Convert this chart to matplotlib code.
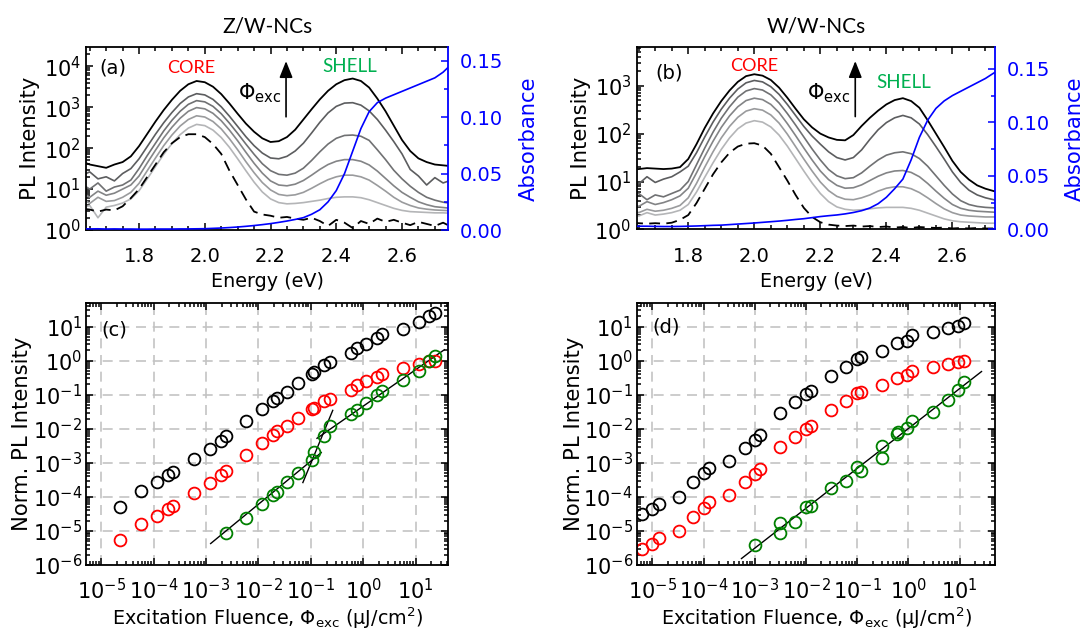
import numpy as np
import matplotlib
matplotlib.use("Agg")
import matplotlib.pyplot as plt
from matplotlib.ticker import FixedLocator, LogLocator, MultipleLocator, NullFormatter, FuncFormatter

plt.rcParams["font.family"] = ["DejaVu Sans"]
plt.rcParams["mathtext.fontset"] = "dejavusans"
plt.rcParams["axes.unicode_minus"] = False

# ---- spectra, log10(PL intensity) ----
energy = [1.63, 1.65, 1.675, 1.70, 1.725, 1.75, 1.775, 1.80, 1.825, 1.85, 1.875, 1.90,
          1.925, 1.95, 1.975, 2.00, 2.025, 2.05, 2.075, 2.10, 2.125, 2.15, 2.175, 2.20,
          2.225, 2.25, 2.275, 2.30, 2.325, 2.35, 2.375, 2.40, 2.425, 2.45, 2.475, 2.50,
          2.525, 2.55, 2.575, 2.60, 2.625, 2.65, 2.675, 2.70, 2.725, 2.75]

a_black = [1.66, 1.60, 1.56, 1.52, 1.60, 1.66, 1.80, 2.05, 2.35, 2.65, 2.93, 3.18, 3.40, 3.56, 3.64, 3.61,
           3.50, 3.32, 3.09, 2.84, 2.60, 2.40, 2.24, 2.15, 2.17, 2.27, 2.45, 2.70, 2.95, 3.19, 3.40, 3.56,
           3.66, 3.70, 3.64, 3.48, 3.21, 2.90, 2.55, 2.20, 1.93, 1.75, 1.66, 1.60, 1.58, 1.56]
a_gray1 = [1.35, 1.42, 1.25, 1.30, 1.20, 1.38, 1.50, 1.74, 2.04, 2.34, 2.62, 2.87, 3.09, 3.25, 3.33, 3.30,
           3.19, 3.01, 2.78, 2.53, 2.28, 2.06, 1.88, 1.76, 1.74, 1.80, 1.93, 2.12, 2.37, 2.63, 2.86, 3.02,
           3.10, 3.11, 3.05, 2.91, 2.70, 2.44, 2.16, 1.86, 1.48, 1.32, 1.10, 1.28, 1.15, 1.22]
a_gray2 = [1.10, 1.00, 1.15, 0.95, 1.05, 1.10, 1.22, 1.50, 1.82, 2.12, 2.42, 2.68, 2.90, 3.07, 3.16, 3.13,
           3.02, 2.84, 2.61, 2.36, 2.10, 1.85, 1.62, 1.45, 1.36, 1.34, 1.39, 1.51, 1.70, 1.91, 2.10, 2.24,
           2.31, 2.32, 2.29, 2.19, 1.96, 1.72, 1.46, 1.25, 1.07, 0.92, 0.80, 0.73, 0.68, 0.65]
a_gray3 = [0.90, 0.80, 0.95, 0.85, 0.90, 1.00, 1.10, 1.32, 1.64, 1.95, 2.25, 2.51, 2.73, 2.90, 2.99, 2.96,
           2.85, 2.67, 2.44, 2.18, 1.90, 1.63, 1.39, 1.20, 1.10, 1.08, 1.12, 1.21, 1.34, 1.48, 1.60, 1.68,
           1.72, 1.72, 1.68, 1.59, 1.44, 1.26, 1.08, 0.92, 0.80, 0.69, 0.62, 0.57, 0.55, 0.53]
a_gray4 = [0.75, 0.65, 0.80, 0.70, 0.72, 0.80, 0.92, 1.14, 1.45, 1.76, 2.06, 2.32, 2.54, 2.70, 2.79, 2.76,
           2.65, 2.47, 2.23, 1.96, 1.67, 1.40, 1.16, 0.98, 0.87, 0.84, 0.86, 0.92, 1.02, 1.13, 1.23, 1.30,
           1.34, 1.34, 1.30, 1.22, 1.09, 0.95, 0.80, 0.68, 0.60, 0.54, 0.51, 0.49, 0.48, 0.47]
a_gray5 = [0.55, 0.60, 0.30, 0.56, 0.60, 0.66, 0.76, 0.96, 1.25, 1.55, 1.85, 2.11, 2.33, 2.49, 2.58, 2.55,
           2.44, 2.26, 2.02, 1.74, 1.45, 1.17, 0.93, 0.76, 0.67, 0.64, 0.65, 0.67, 0.70, 0.73, 0.77, 0.80,
           0.81, 0.81, 0.79, 0.74, 0.67, 0.60, 0.53, 0.48, 0.45, 0.44, 0.43, 0.42, 0.42, 0.41]
a_dashed = [0.52, 0.50, 0.45, 0.50, 0.48, 0.58, 0.78, 1.00, 1.30, 1.60, 1.90, 2.12, 2.27, 2.34, 2.34, 2.27,
            2.10, 1.86, 1.45, 1.10, 0.75, 0.45, 0.38, 0.35, 0.30, 0.32, 0.28, 0.25, 0.30, 0.22, 0.10, 0.25,
            0.18, 0.05, 0.22, 0.15, 0.28, 0.20, 0.25, 0.18, 0.12, 0.20, 0.15, 0.10, 0.18, 0.08]
a_absorb = [0.0012, 0.0010, 0.0011, 0.0009, 0.0010, 0.0009, 0.0009, 0.0008, 0.0008, 0.0009, 0.0009, 0.0009,
            0.0010, 0.0010, 0.0011, 0.0012, 0.0015, 0.0018, 0.0022, 0.0027, 0.0033, 0.0040, 0.0048, 0.0057,
            0.0068, 0.0080, 0.0094, 0.011, 0.014, 0.018, 0.025, 0.035, 0.050, 0.070, 0.090, 0.105,
            0.113, 0.117, 0.120, 0.123, 0.126, 0.129, 0.132, 0.135, 0.140, 0.147]

b_black = [1.27, 1.26, 1.28, 1.27, 1.26, 1.27, 1.30, 1.47, 1.78, 2.12, 2.42, 2.68, 2.90, 3.08, 3.20, 3.24,
           3.21, 3.12, 2.96, 2.75, 2.52, 2.30, 2.13, 2.00, 1.92, 1.87, 1.86, 1.97, 2.16, 2.33, 2.48, 2.61,
           2.70, 2.74, 2.68, 2.54, 2.28, 2.00, 1.72, 1.43, 1.20, 1.04, 0.92, 0.85, 0.80, 0.78]
b_gray1 = [1.05, 0.95, 1.10, 0.98, 1.05, 1.10, 1.20, 1.32, 1.60, 1.93, 2.24, 2.51, 2.74, 2.93, 3.06, 3.11,
           3.08, 2.98, 2.82, 2.61, 2.38, 2.15, 1.95, 1.78, 1.62, 1.50, 1.45, 1.50, 1.66, 1.88, 2.08, 2.23,
           2.33, 2.38, 2.33, 2.20, 1.98, 1.73, 1.47, 1.20, 0.98, 0.82, 0.72, 0.66, 0.62, 0.60]
b_gray2 = [0.70, 0.75, 0.62, 0.72, 0.68, 0.75, 0.82, 1.00, 1.35, 1.70, 2.03, 2.32, 2.56, 2.76, 2.89, 2.94,
           2.91, 2.81, 2.64, 2.42, 2.18, 1.93, 1.68, 1.45, 1.25, 1.12, 1.06, 1.08, 1.18, 1.32, 1.45, 1.55,
           1.60, 1.62, 1.58, 1.48, 1.32, 1.12, 0.92, 0.74, 0.60, 0.52, 0.48, 0.46, 0.45, 0.44]
b_gray3 = [0.55, 0.48, 0.58, 0.52, 0.56, 0.62, 0.70, 0.86, 1.18, 1.52, 1.84, 2.13, 2.37, 2.56, 2.69, 2.74,
           2.71, 2.61, 2.44, 2.21, 1.96, 1.70, 1.45, 1.22, 1.04, 0.92, 0.86, 0.87, 0.93, 1.02, 1.11, 1.18,
           1.22, 1.23, 1.19, 1.10, 0.96, 0.80, 0.65, 0.52, 0.44, 0.40, 0.38, 0.37, 0.36, 0.36]
b_gray4 = [0.40, 0.35, 0.42, 0.38, 0.40, 0.44, 0.50, 0.66, 0.96, 1.30, 1.62, 1.91, 2.15, 2.34, 2.47, 2.52,
           2.49, 2.39, 2.22, 1.99, 1.73, 1.47, 1.22, 0.99, 0.81, 0.69, 0.63, 0.62, 0.66, 0.72, 0.80, 0.86,
           0.89, 0.89, 0.85, 0.77, 0.66, 0.54, 0.43, 0.35, 0.30, 0.28, 0.27, 0.26, 0.26, 0.25]
b_gray5 = [0.32, 0.28, 0.35, 0.30, 0.32, 0.35, 0.40, 0.52, 0.78, 1.09, 1.39, 1.67, 1.91, 2.10, 2.22, 2.27,
           2.24, 2.14, 1.97, 1.74, 1.48, 1.22, 0.97, 0.75, 0.58, 0.47, 0.42, 0.40, 0.41, 0.43, 0.45, 0.46,
           0.46, 0.46, 0.44, 0.40, 0.34, 0.28, 0.22, 0.18, 0.16, 0.15, 0.14, 0.13, 0.13, 0.12]
b_dashed = [0.14, 0.13, 0.12, 0.13, 0.12, 0.14, 0.20, 0.30, 0.55, 0.85, 1.15, 1.40, 1.60, 1.73, 1.79, 1.80,
            1.75, 1.58, 1.30, 1.02, 0.72, 0.45, 0.26, 0.15, 0.10, 0.08, 0.07, 0.08, 0.06, 0.07, 0.05, 0.06,
            0.04, 0.05, 0.03, 0.05, 0.04, 0.03, 0.04, 0.02, 0.03, 0.02, 0.03, 0.02, 0.02, 0.02]
b_absorb = [0.003, 0.003, 0.003, 0.0028, 0.0027, 0.0027, 0.0028, 0.003, 0.0032, 0.0035, 0.0038, 0.004,
            0.0045, 0.005, 0.0055, 0.006, 0.0066, 0.0072, 0.0078, 0.0085, 0.0093, 0.010, 0.011, 0.012,
            0.0128, 0.0135, 0.0145, 0.0158, 0.0175, 0.020, 0.024, 0.030, 0.038, 0.047, 0.065, 0.086,
            0.102, 0.113, 0.120, 0.125, 0.129, 0.133, 0.137, 0.141, 0.146, 0.150]

# ---- fluence dependence, log10 values ----
c_fluence = [-4.64, -4.23, -3.93, -3.73, -3.62, -3.23, -2.93, -2.72, -2.62, -2.23, -1.93, -1.72, -1.64, -1.46,
             -1.24, -0.98, -0.93, -0.74, -0.64, -0.24, -0.11, 0.06, 0.26, 0.36, 0.76, 1.06, 1.26, 1.37]
c_black = [-4.29, -3.82, -3.56, -3.37, -3.27, -2.88, -2.58, -2.36, -2.22, -1.77, -1.41, -1.18, -1.09, -0.93,
           -0.66, -0.39, -0.33, -0.12, -0.04, 0.21, 0.37, 0.50, 0.67, 0.77, 0.93, 1.14, 1.32, 1.40]
c_red = [-5.28, -4.81, -4.56, -4.37, -4.28, -3.88, -3.59, -3.37, -3.24, -2.78, -2.41, -2.18, -2.08, -1.91,
         -1.67, -1.42, -1.38, -1.19, -1.12, -0.86, -0.73, -0.60, -0.47, -0.39, -0.23, -0.09, -0.02, -0.01]
c_green_fluence = c_fluence[8:]
c_green = [-5.05, -4.61, -4.20, -3.94, -3.85, -3.56, -3.30, -2.92, -2.68, -2.20, -1.92, -1.58, -1.46, -1.25,
           -1.02, -0.89, -0.56, -0.31, -0.02, 0.15]
c_fits = [([-2.91, -0.80], [-5.37, -2.70]),
          ([-1.15, -0.58], [-3.58, -1.46]),
          ([-0.88, 1.55], [-2.28, 0.32])]

d_fluence = [-5.20, -5.00, -4.88, -4.49, -4.21, -4.00, -3.90, -3.50, -3.20, -3.00, -2.90, -2.51, -2.21, -1.99,
             -1.90, -1.51, -1.21, -1.01, -0.92, -0.52, -0.23, -0.02, 0.08, 0.48, 0.77, 0.98, 1.09]
d_black = [-4.50, -4.36, -4.21, -4.00, -3.55, -3.31, -3.16, -2.95, -2.56, -2.33, -2.18, -1.53, -1.22, -0.99,
           -0.89, -0.44, -0.18, 0.05, 0.12, 0.29, 0.53, 0.59, 0.74, 0.83, 0.95, 1.03, 1.10]
d_red = [-5.53, -5.37, -5.22, -5.00, -4.58, -4.32, -4.14, -3.95, -3.55, -3.34, -3.18, -2.55, -2.23, -2.01,
         -1.91, -1.45, -1.18, -0.96, -0.91, -0.71, -0.50, -0.42, -0.30, -0.20, -0.11, -0.03, 0.00]
d_green_fluence = [-3.00, -2.51, -2.51, -2.21, -1.99, -1.90, -1.51, -1.21, -1.01, -0.92, -0.52, -0.52, -0.23,
                   -0.21, -0.02, 0.08, 0.48, 0.77, 0.98, 1.09]
d_green = [-5.40, -4.78, -5.07, -4.75, -4.29, -4.26, -3.73, -3.52, -3.11, -3.24, -2.50, -2.87, -2.16, -2.10,
           -1.99, -1.76, -1.50, -1.15, -0.86, -0.64]
d_fits = [([-3.26, 1.43], [-5.81, -0.32])]

curve_colors = ["#b4b5b7", "#9a9b9d", "#838486", "#707173", "#5c5d5f", "#000000"]
RED = "#ff0000"
GREEN = "#008000"
BLUE = "#0000ff"
CALIBRI = ["Lato", "DejaVu Sans"]
TICK_FS = 14
LOG_TICK_FS = 15
XLAB_FS = 13.8
YLAB_FS = 15.2


def decade_label(v, pos):
    return r"$\mathregular{10^{%d}}$" % int(round(np.log10(v)))


def style_spines(ax):
    for s in ax.spines.values():
        s.set_linewidth(1.3)


def spectrum_panel(ax, curves, dashed, absorb, xlim, ytop_exp, abs_top, tag, arrow_x, phi_x,
                   core_xy, shell_xy, tag_xy):
    E = np.array(energy)
    for col, vals in zip(curve_colors, curves):
        ax.semilogy(E, 10 ** np.array(vals), color=col, lw=1.3 if col == "#000000" else 1.2)
    ax.semilogy(E, 10 ** np.array(dashed), color="black", lw=1.3, linestyle=(0, (6, 3.5)))
    ax.set_xlim(*xlim)
    ax.set_ylim(1, 10 ** ytop_exp)
    ax.xaxis.set_major_locator(MultipleLocator(0.2))
    ax.xaxis.set_minor_locator(MultipleLocator(0.05))
    ax.xaxis.set_major_formatter(FuncFormatter(lambda v, p: "%.1f" % v))
    ax.yaxis.set_major_locator(FixedLocator([10.0 ** k for k in range(0, int(ytop_exp) + 1)]))
    ax.yaxis.set_minor_locator(LogLocator(base=10, subs=[2, 3, 4, 5, 6, 7, 8, 9], numticks=20))
    ax.yaxis.set_major_formatter(FuncFormatter(decade_label))
    ax.yaxis.set_minor_formatter(NullFormatter())
    ax.tick_params(which="both", direction="in", top=True, right=False, width=1.1)
    ax.tick_params(axis="x", which="both", pad=12.5, labelsize=TICK_FS)
    ax.tick_params(axis="y", which="both", pad=4, labelsize=LOG_TICK_FS)
    ax.tick_params(which="major", length=5)
    ax.tick_params(which="minor", length=3)
    ax.set_xlabel("Energy (eV)", fontsize=XLAB_FS)
    ax.xaxis.set_label_coords(0.5, -0.232)
    ax.set_ylabel("PL Intensity", fontsize=YLAB_FS)
    ax.yaxis.set_label_coords(-0.129, 0.5)
    ax.spines["right"].set_visible(False)
    style_spines(ax)

    ax2 = ax.twinx()
    ax2.plot(E, absorb, color=BLUE, lw=1.2)
    ax2.set_ylim(0, abs_top)
    ax2.set_xlim(*xlim)
    ax2.yaxis.set_major_locator(MultipleLocator(0.05))
    ax2.yaxis.set_minor_locator(MultipleLocator(0.025))
    ax2.yaxis.set_major_formatter(FuncFormatter(lambda v, p: "%.2f" % v))
    ax2.tick_params(axis="y", which="both", direction="in", colors=BLUE, width=1.1,
                    labelsize=TICK_FS, pad=8.5)
    ax2.tick_params(axis="y", which="major", length=5)
    ax2.tick_params(axis="y", which="minor", length=3)
    for name, s in ax2.spines.items():
        s.set_visible(name == "right")
    ax2.spines["right"].set_color(BLUE)
    ax2.spines["right"].set_linewidth(1.3)
    ax2.set_ylabel("Absorbance", color=BLUE, fontsize=YLAB_FS)
    ax2.yaxis.set_label_coords(1.195, 0.5)

    ax.text(tag_xy[0], tag_xy[1], tag, transform=ax.transAxes, fontsize=14, ha="left", va="center")
    ax.text(core_xy[0], core_xy[1], "CORE", transform=ax.transAxes, fontsize=13, color=RED,
            ha="center", va="center", family=CALIBRI)
    ax.text(shell_xy[0], shell_xy[1], "SHELL", transform=ax.transAxes, fontsize=13.5, color="#00b050",
            ha="center", va="center", family=CALIBRI)
    ax.annotate("", xy=(arrow_x, 0.925), xytext=(arrow_x, 0.62), xycoords="axes fraction",
                textcoords="axes fraction",
                arrowprops=dict(arrowstyle="-|>,head_length=0.5,head_width=0.2", color="black",
                                lw=1.2, mutation_scale=20, shrinkA=0, shrinkB=0))
    ax.text(phi_x, 0.75, r"Φ$_{\rm exc}$", transform=ax.transAxes, fontsize=15, ha="right", va="center")


def fluence_panel(ax, fl, black, red, gfl, green, fits, tag, tag_xy, xlim_exp, ylab_x):
    ax.grid(True, which="major", color="#c3c3c3", linestyle=(0, (6, 4)), linewidth=1.2)
    ax.set_axisbelow(True)
    for xs, ys in fits:
        ax.loglog(10 ** np.array(xs), 10 ** np.array(ys), color="black", lw=1.0)
    mk = dict(marker="o", linestyle="none", mfc="none", ms=8.5, mew=1.3)
    ax.loglog(10 ** np.array(fl), 10 ** np.array(black), mec="black", **mk)
    ax.loglog(10 ** np.array(fl), 10 ** np.array(red), mec=RED, **mk)
    ax.loglog(10 ** np.array(gfl), 10 ** np.array(green), mec=GREEN, **mk)
    ax.set_xlim(10 ** xlim_exp[0], 10 ** xlim_exp[1])
    ax.set_ylim(1e-6, 10 ** 1.7)
    ax.xaxis.set_major_locator(FixedLocator([10.0 ** k for k in range(-5, 2)]))
    ax.yaxis.set_major_locator(FixedLocator([10.0 ** k for k in range(-6, 2)]))
    for axis in (ax.xaxis, ax.yaxis):
        axis.set_minor_locator(LogLocator(base=10, subs=[2, 3, 4, 5, 6, 7, 8, 9], numticks=30))
        axis.set_major_formatter(FuncFormatter(decade_label))
        axis.set_minor_formatter(NullFormatter())
    ax.tick_params(which="both", direction="in", top=True, right=True, width=1.1, labelsize=LOG_TICK_FS)
    ax.tick_params(axis="x", which="both", pad=9)
    ax.tick_params(axis="y", which="both", pad=3)
    ax.tick_params(which="major", length=5)
    ax.tick_params(which="minor", length=3)
    ax.set_xlabel(r"Excitation Fluence, Φ$_{\rm exc}$ (μJ/cm$^{2}$)", fontsize=XLAB_FS)
    ax.xaxis.set_label_coords(0.5, -0.153)
    ax.set_ylabel("Norm. PL Intensity", fontsize=YLAB_FS)
    ax.yaxis.set_label_coords(ylab_x, 0.5)
    ax.text(tag_xy[0], tag_xy[1], tag, transform=ax.transAxes, fontsize=14, ha="left", va="center")
    style_spines(ax)


fig = plt.figure(figsize=(10.89, 6.32), dpi=100)
ax_a = fig.add_axes([0.0794, 0.636, 0.332, 0.289])
ax_b = fig.add_axes([0.585, 0.637, 0.329, 0.288])
ax_c = fig.add_axes([0.0794, 0.106, 0.332, 0.415])
ax_d = fig.add_axes([0.585, 0.106, 0.329, 0.415])

spectrum_panel(ax_a, [a_gray5, a_gray4, a_gray3, a_gray2, a_gray1, a_black], a_dashed, a_absorb,
               (1.64, 2.74), 4.46, 0.162, "(a)", 0.552, 0.54,
               (0.29, 0.885), (0.729, 0.895), (0.037, 0.885))
spectrum_panel(ax_b, [b_gray5, b_gray4, b_gray3, b_gray2, b_gray1, b_black], b_dashed, b_absorb,
               (1.645, 2.73), 3.8, 0.170, "(b)", 0.609, 0.595,
               (0.328, 0.899), (0.743, 0.807), (0.05, 0.86))
fluence_panel(ax_c, c_fluence, c_black, c_red, c_green_fluence, c_green, c_fits, "(c)", (0.04, 0.895),
              (-5.28, 1.62), -0.151)
fluence_panel(ax_d, d_fluence, d_black, d_red, d_green_fluence, d_green, d_fits, "(d)", (0.044, 0.908),
              (-5.3, 1.70), -0.149)

fig.text(0.2455, 0.958, "Z/W-NCs", ha="center", va="center", fontsize=15, family=CALIBRI)
fig.text(0.7495, 0.958, "W/W-NCs", ha="center", va="center", fontsize=15, family=CALIBRI)

fig.savefig("out.png", dpi=100)
